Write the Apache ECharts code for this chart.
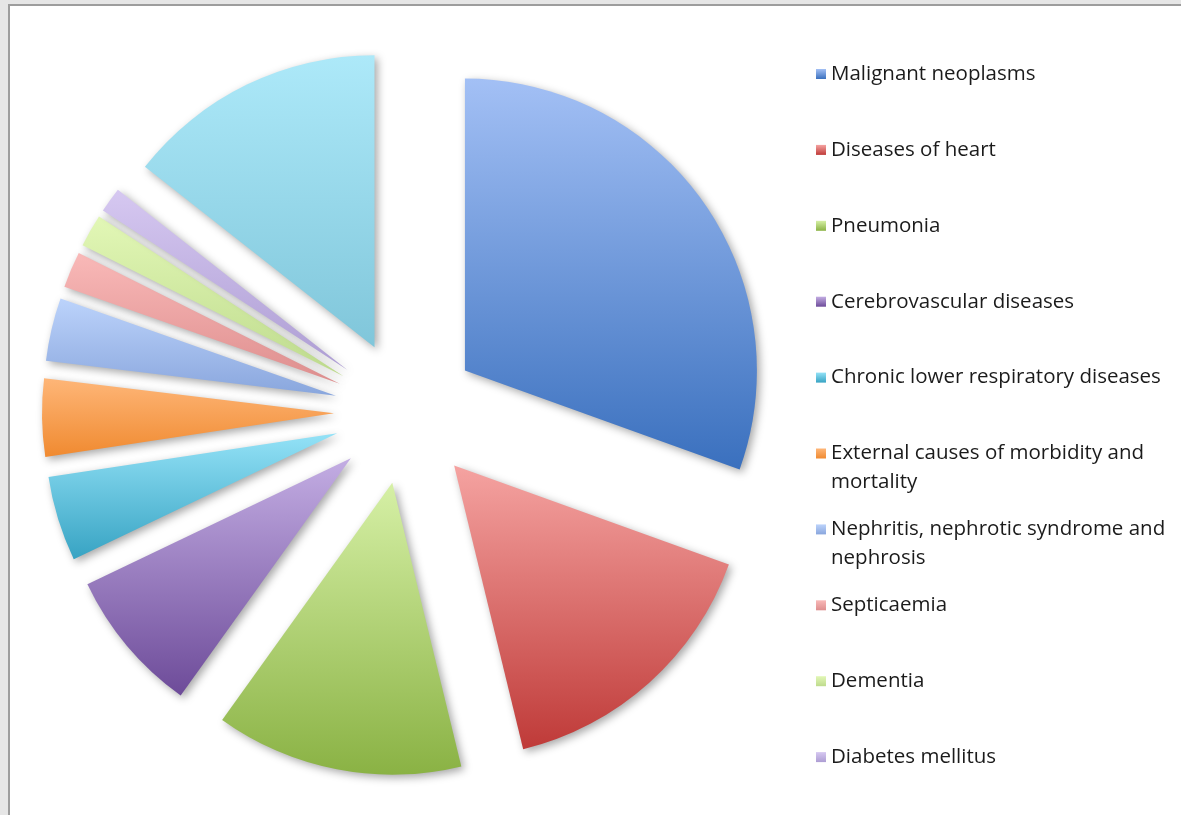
<!DOCTYPE html>
<html>
<head>
<meta charset="utf-8">
<title>Causes of death</title>
<script src="https://cdn.jsdelivr.net/npm/echarts@6/dist/echarts.min.js"></script>
<style>
  html, body { margin: 0; padding: 0; background: #fff; }
  #chart { width: 1181px; height: 815px; }
</style>
</head>
<body>
<div id="chart"></div>
<script>
// data (share of deaths, %)
const causes = [
  'Malignant neoplasms',
  'Diseases of heart',
  'Pneumonia',
  'Cerebrovascular diseases',
  'Chronic lower respiratory diseases',
  'External causes of morbidity and mortality',
  'Nephritis, nephrotic syndrome and nephrosis',
  'Septicaemia',
  'Dementia',
  'Diabetes mellitus',
  'Other'
];
const shares = [30.5, 15.7, 13.7, 8.0, 4.7, 4.3, 3.5, 2.0, 1.8, 1.4, 14.4];
// the legend in the picture stops before the last slice
const legendNames = causes.slice(0, 10);

// top / bottom colours of each slice's gradient
const lightColors = ['#a3c0f5', '#f5a3a1', '#d6f0a6', '#c3ade3', '#94e2f7', '#feb678', '#bcd3fb', '#f9b9b8', '#e2f7b6', '#d6c8f1', '#ade9f9'];
const darkColors = ['#3a70be', '#bf3a38', '#8ab244', '#6d4b99', '#37a3c3', '#f08a30', '#89a6dd', '#de8e8e', '#bedb8d', '#ad9dd3', '#80c6da'];

const wrapped = {
  'External causes of morbidity and mortality': 'External causes of morbidity and\nmortality',
  'Nephritis, nephrotic syndrome and nephrosis': 'Nephritis, nephrotic syndrome and\nnephrosis'
};

const chart = echarts.init(document.getElementById('chart'));

const gradient = i => ({
  type: 'linear',
  x: 0, y: 0, x2: 0, y2: 1,
  colorStops: [
    { offset: 0, color: lightColors[i] },
    { offset: 1, color: darkColors[i] }
  ],
  global: false
});

const lineH = 29;
const legends = legendNames.map((name, i) => {
  const twoLines = !!wrapped[name];
  const rowMid = 74 + i * 75.9; // middle of the first text line
  return {
    data: [name],
    orient: 'vertical',
    left: 816,
    top: rowMid - (twoLines ? lineH * 1.5 : lineH / 2),
    padding: 0,
    icon: 'rect',
    itemWidth: 10,
    itemHeight: 10,
    selectedMode: false,
    // an empty first line keeps the square level with the first text line
    formatter: n => (wrapped[n] ? '\n' + wrapped[n] : n),
    textStyle: {
      fontFamily: 'Open Sans',
      fontSize: 20.5,
      color: '#1b1b1b',
      lineHeight: lineH
    }
  };
});

chart.setOption({
  backgroundColor: '#fff',
  animation: false,
  legend: legends,
  graphic: [
    { type: 'rect', shape: { x: 0, y: 0, width: 1181, height: 5 }, style: { fill: '#e6e6e6' } },
    { type: 'rect', shape: { x: 0, y: 0, width: 8, height: 815 }, style: { fill: '#e6e6e6' } },
    { type: 'line', shape: { x1: 8, y1: 5, x2: 1181, y2: 5 }, style: { stroke: '#9d9d9d', lineWidth: 2 } },
    { type: 'line', shape: { x1: 9, y1: 5, x2: 9, y2: 815 }, style: { stroke: '#9d9d9d', lineWidth: 2 } }
  ],
  series: [
    {
      type: 'pie',
      center: [406, 412],
      radius: 292,
      startAngle: 90,
      clockwise: true,
      selectedMode: 'multiple',
      selectedOffset: 72,
      label: { show: false },
      labelLine: { show: false },
      emphasis: { disabled: true },
      data: causes.map((name, i) => ({
        name: name,
        value: shares[i],
        selected: true,
        itemStyle: {
          color: gradient(i),
          shadowBlur: 8,
          shadowOffsetX: 3,
          shadowOffsetY: 3,
          shadowColor: 'rgba(0,0,0,0.35)'
        }
      }))
    }
  ]
});
</script>
</body>
</html>
